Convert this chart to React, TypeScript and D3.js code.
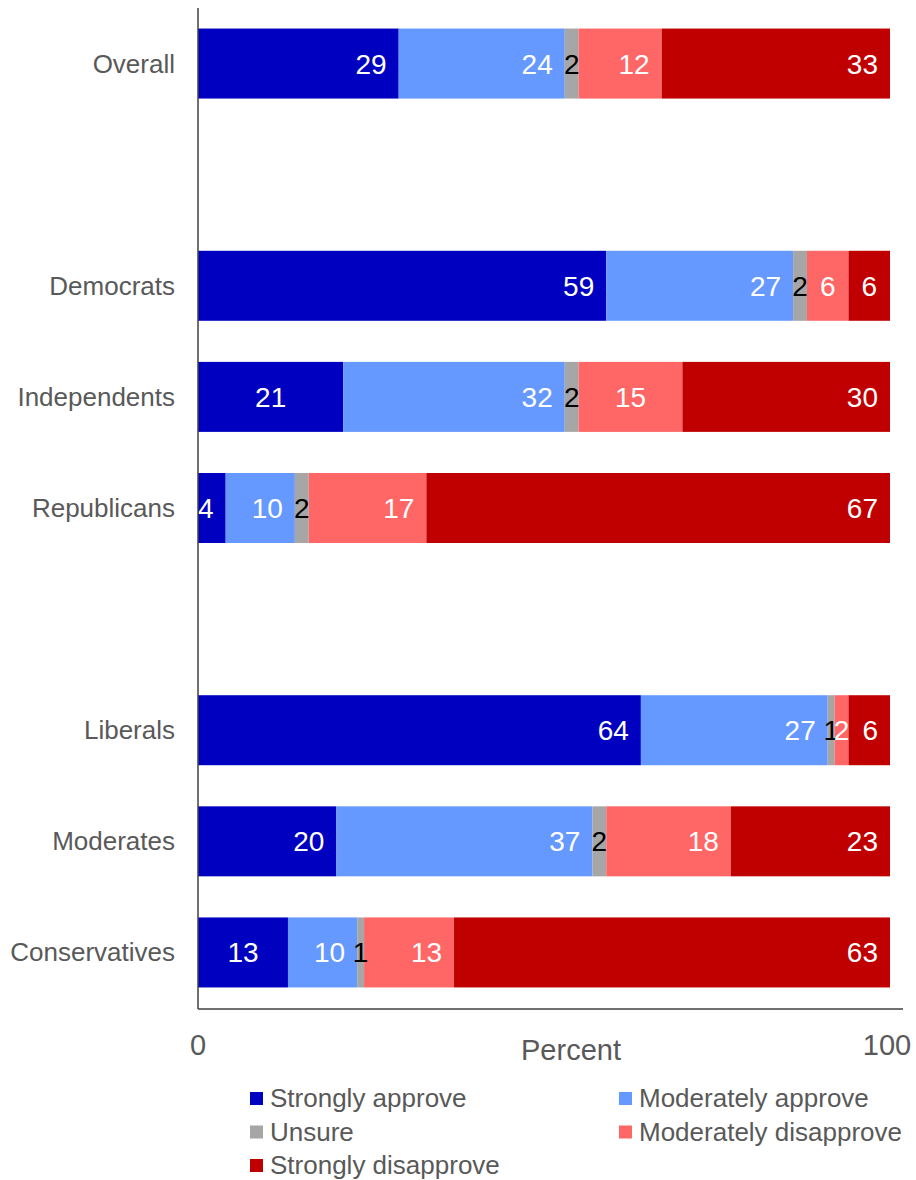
import React from "react";
import * as d3 from "d3";

const categories = ["Overall", "", "Democrats", "Independents", "Republicans", "", "Liberals", "Moderates", "Conservatives"];
const seriesNames = ["Strongly approve", "Moderately approve", "Unsure", "Moderately disapprove", "Strongly disapprove"];
const seriesColors = ["#0000C0", "#6699FF", "#A6A6A6", "#FF6666", "#C00000"];
const labelColors = ["#FFFFFF", "#FFFFFF", "#000000", "#FFFFFF", "#FFFFFF"];
const strongApprove = [29, null, 59, 21, 4, null, 64, 20, 13];
const modApprove = [24, null, 27, 32, 10, null, 27, 37, 10];
const unsure = [2, null, 2, 2, 2, null, 1, 2, 1];
const modDisapprove = [12, null, 6, 15, 17, null, 2, 18, 13];
const strongDisapprove = [33, null, 6, 30, 67, null, 6, 23, 63];
const xTicks = [0, 100];
// labels that sit in the middle of their segment (row-series)
const centeredLabels = ["3-0", "8-0", "3-3", "2-3", "2-4"];

const W = 916;
const H = 1180;
const FONT = "'Liberation Sans', Arial, sans-serif";

function textWidth(s: string, size: number) {
  return s.length * 0.556 * size;
}

export default function App() {
  const x = d3.scaleLinear().domain([0, 100]).range([198, 890]);
  const y = d3.scaleBand().domain(categories.map((c, i) => String(i))).range([8, 1008]).paddingInner(0.37).paddingOuter(0.185);
  const series = [strongApprove, modApprove, unsure, modDisapprove, strongDisapprove];

  const rows = categories.map((cat, i) => {
    if (series[0][i] == null) return null;
    let acc = 0;
    const segs = series.map((s, k) => {
      const v = s[i] as number;
      const x0 = x(acc);
      acc += v;
      const x1 = x(acc);
      return { k, v, x0, x1 };
    });
    return { cat, i, segs };
  });

  const valSize = 28;
  return (
    <svg width={W} height={H} style={{ display: "block", position: "absolute", left: 0, top: 0 }} fontFamily={FONT}>
      <rect width={W} height={H} fill="#fff" />
      {rows.map((r) => {
        if (!r) return null;
        const y0 = y(String(r.i))!;
        const bh = y.bandwidth();
        const cy = y0 + bh / 2;
        return (
          <g key={r.i}>
            <text x={175} y={cy + 9} textAnchor="end" fontSize={26} fill="#595959">{r.cat}</text>
            {r.segs.map((s) => (
              <rect key={s.k} x={s.x0} y={y0} width={s.x1 - s.x0} height={bh} fill={seriesColors[s.k]} />
            ))}
            {r.segs.map((s) => {
              const label = String(s.v);
              const tw = textWidth(label, valSize);
              const w = s.x1 - s.x0;
              const centered = w < tw + 4 || centeredLabels.includes(r.i + "-" + s.k);
              const lx = centered ? (s.x0 + s.x1) / 2 : s.x1 - 12;
              return (
                <text key={"t" + s.k} x={lx} y={cy + 10} textAnchor={centered ? "middle" : "end"} fontSize={valSize} fill={labelColors[s.k]}>{label}</text>
              );
            })}
          </g>
        );
      })}
      <line x1={198} x2={198} y1={8} y2={1009} stroke="#404040" strokeWidth={1.5} />
      <line x1={198} x2={903} y1={1009} y2={1009} stroke="#404040" strokeWidth={1.5} />
      {xTicks.map((t) => (
        <text key={t} x={t === 0 ? x(t) : x(t) - 3} y={1055} textAnchor="middle" fontSize={29} fill="#595959">{t}</text>
      ))}
      <text x={571} y={1060} textAnchor="middle" fontSize={29} fill="#595959">Percent</text>
      {seriesNames.map((n, k) => {
        const col = k % 2;
        const row = Math.floor(k / 2);
        const lx = col === 0 ? 250 : 619;
        const ly = 1092 + row * 33.5;
        return (
          <g key={n}>
            <rect x={lx} y={ly} width={13} height={13} fill={seriesColors[k]} />
            <text x={lx + 20} y={ly + 15} fontSize={26} fill="#595959">{n}</text>
          </g>
        );
      })}
    </svg>
  );
}
